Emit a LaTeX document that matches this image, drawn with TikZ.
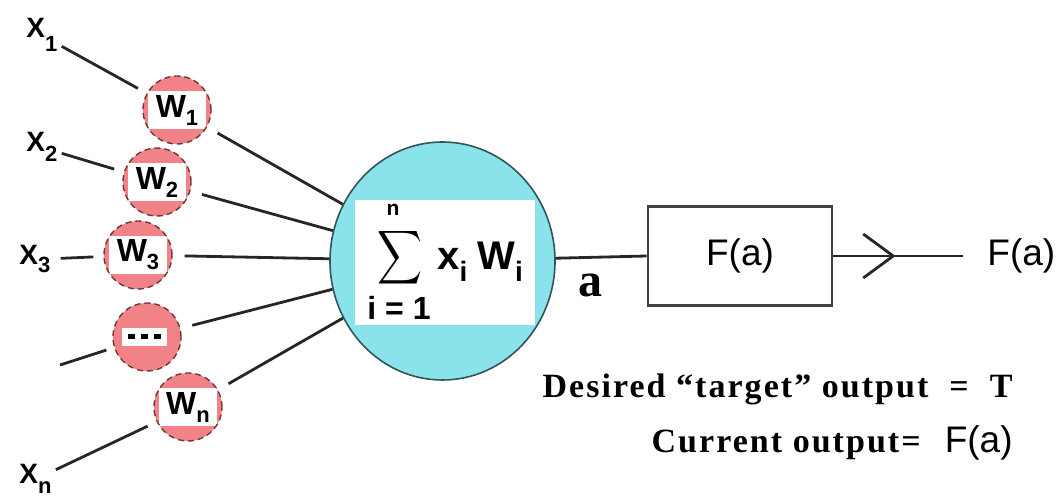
\documentclass[tikz,border=0pt]{standalone}
\usepackage{fontspec}
\setmainfont{Liberation Sans}
\newfontfamily\tnrsp{Liberation Serif}[LetterSpace=6]
\newfontfamily\tnr{Liberation Serif}
\usetikzlibrary{shapes.geometric,arrows.meta,decorations.markings}
\definecolor{cyanfill}{RGB}{138,226,234}
\definecolor{pinkfill}{RGB}{240,130,136}
\definecolor{pinkedge}{RGB}{115,55,55}
\definecolor{cyanedge}{RGB}{50,85,90}
\newcommand\lsub[3][5pt]{#2\raisebox{-#1}{\fontsize{11}{11}\selectfont #3}}
\begin{document}
\begin{tikzpicture}[x=0.5pt,y=-0.5pt,
  weight/.style={circle, minimum size=34pt, inner sep=0pt, fill=pinkfill,
    draw=pinkedge, densely dashed, line width=0.7pt,
    font=\fontsize{16}{16}\selectfont\bfseries,
    path picture={\fill[white] ([xshift=2.5pt,yshift=-#1]path picture bounding box.west)
      rectangle ([xshift=-2.5pt,yshift=#1]path picture bounding box.east);}},
  weight/.default=9.5pt,
  lab/.style={font=\fontsize{14}{14}\selectfont\bfseries, inner sep=2pt},
  conn/.style={line width=1.4pt, black!85}
]
\useasboundingbox (0,0) rectangle (1057,496);

% summation unit
\node[ellipse, minimum width=112.5pt, minimum height=119pt, inner sep=0pt,
  fill=cyanfill, draw=cyanedge, line width=0.8pt,
  path picture={\fill[white] ([xshift=-43.75pt,yshift=30.5pt]path picture bounding box.center)
    rectangle ([xshift=46.25pt,yshift=-32pt]path picture bounding box.center);}]
  (sum) at (442.5,261) {};
\node[inner sep=0pt] (sig) at (400,258) {\resizebox*{22.5pt}{30pt}{$\displaystyle\sum$}};
\node[inner sep=0.5pt, font=\fontsize{10.5}{10.5}\selectfont\bfseries] (nn) at (393,210) {n};
\node[font=\fontsize{16}{16}\selectfont\bfseries] (i1) at (399,308) {i = 1};
\node[anchor=base west, inner sep=0pt, font=\fontsize{20}{20}\selectfont\bfseries] (xw) at (437,270)
  {x\raisebox{-6pt}{\fontsize{14}{14}\selectfont i}\hspace{5pt}W\raisebox{-6pt}{\fontsize{14}{14}\selectfont i}};

% weights
\node[weight] (w1) at (177,110) {\lsub[4pt]{W}{1}};
\node[weight] (w2) at (157,182) {\lsub[4pt]{W}{2}};
\node[weight] (w3) at (138,255) {\lsub[4pt]{W}{3}};
\node[circle, minimum size=34pt, inner sep=0pt, fill=pinkfill, draw=pinkedge, densely dashed,
  line width=0.7pt,
  path picture={\fill[white] ([xshift=4.5pt,yshift=-4.3pt]path picture bounding box.west)
      rectangle ([xshift=-7pt,yshift=4.3pt]path picture bounding box.east);}]
  (wd) at (147,337) {};
\node[inner sep=0pt] (dots) at (144,337) {\rule{3.5pt}{2.5pt}\hspace{3pt}\rule{3.5pt}{2.5pt}\hspace{3pt}\rule{3.5pt}{2.5pt}};
\node[weight] (wn) at (188,407) {\lsub[4pt]{W}{n}};

% inputs
\node[lab, anchor=base west] (x1) at (22,38) {\lsub[7pt]{X}{1}};
\node[lab, anchor=base west] (x2) at (22,152) {\lsub[5pt]{X}{2}};
\node[lab, anchor=base west] (x3) at (15,265) {\lsub[4pt]{X}{3}};
\node[lab, anchor=base west] (xn) at (15,484) {\lsub[5pt]{X}{n}};
\coordinate (xd) at (60,365);

\draw[conn, shorten >=5pt] (x1) -- (w1);
\draw[conn, shorten >=5pt] (x2) -- (w2);
\draw[conn, shorten <=3pt, shorten >=5pt] (x3) -- (w3);
\draw[conn, shorten >=4pt] (xd) -- (wd);
\draw[conn, shorten >=5pt] (xn) -- (wn);

\draw[conn, shorten <=6pt] (w1) -- (sum);
\draw[conn, shorten <=6pt] (w2) -- (sum);
\draw[conn, shorten <=6pt] (w3) -- (sum);
\draw[conn, shorten <=6pt] (wd) -- (sum);
\draw[conn, shorten <=6pt] (wn) -- (sum);

% activation
\node[draw=black!75, line width=1.4pt, minimum width=92pt, minimum height=49.5pt,
  font=\fontsize{18.5}{18.5}\selectfont] (fbox) at (740,256) {F(a)};
\node[font=\tnr\bfseries\fontsize{24}{24}\selectfont] (alab) at (590,285) {a};
\draw[conn] (sum) -- (fbox.west);

\node[anchor=west, inner sep=0pt, font=\fontsize{18.5}{18.5}\selectfont] (fout) at (987,256) {F(a)};
\draw[conn, postaction={decorate}, decoration={markings,
    mark=at position 0.48 with {\arrow{Straight Barb[length=15pt, width=22pt]}}}]
  (fbox.east) -- ([xshift=-12pt]fout.west);

% texts
\node[anchor=base east, inner sep=0pt, font=\tnrsp\bfseries\fontsize{17}{17}\selectfont] (des)
  at (1013,398) {Desired “target” output\ \ =\ \ T};
\node[anchor=base east, inner sep=0pt] (cur) at (1013,453)
  {{\tnrsp\bfseries\fontsize{17}{17}\selectfont Current output=}\hspace{12pt}{\fontsize{18.5}{18.5}\selectfont F(a)}};
\end{tikzpicture}
\end{document}
